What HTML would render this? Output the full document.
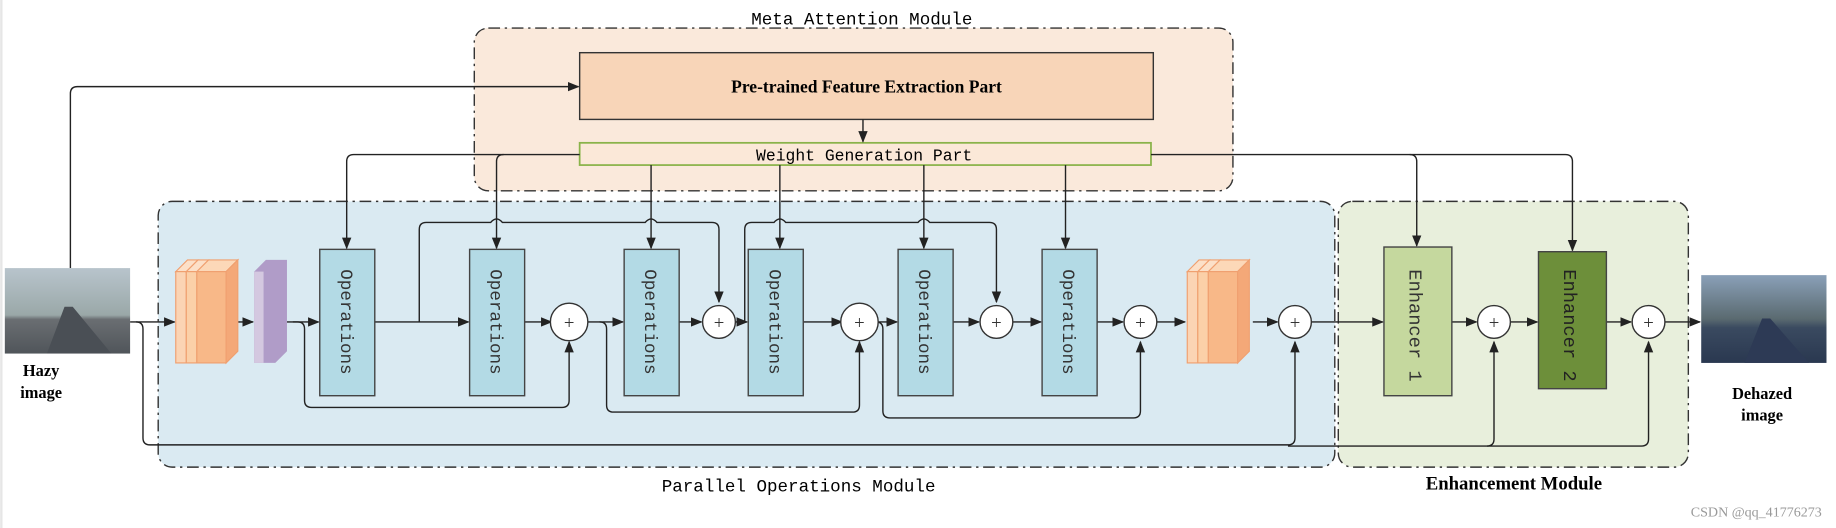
<!DOCTYPE html>
<html><head><meta charset="utf-8"><style>
html,body{margin:0;padding:0;background:#fff;}
svg{display:block;}
text{font-family:"Liberation Serif",serif;}
.m{font-family:"Liberation Mono",monospace;}
</style></head><body>
<svg width="1836" height="528" viewBox="0 0 1568 451" xmlns="http://www.w3.org/2000/svg">
<defs>
<marker id="a" markerWidth="10" markerHeight="10" refX="9" refY="5" orient="auto" markerUnits="userSpaceOnUse"><path d="M0,1 L10,5 L0,9 z" fill="#222"/></marker>
<linearGradient id="sky" x1="0" y1="0" x2="0" y2="1"><stop offset="0" stop-color="#b8c4cc"/><stop offset="0.55" stop-color="#9aa8a8"/><stop offset="0.6" stop-color="#6a6e72"/><stop offset="1" stop-color="#50555a"/></linearGradient>
<linearGradient id="sky2" x1="0" y1="0" x2="0" y2="1"><stop offset="0" stop-color="#8aa0b8"/><stop offset="0.5" stop-color="#5a6a70"/><stop offset="0.6" stop-color="#3a4a60"/><stop offset="1" stop-color="#2a3850"/></linearGradient>
</defs>
<rect x="0" y="0" width="2" height="451" fill="#e6e6e6"/>
<!-- module boxes -->
<rect x="405" y="24" width="648" height="139" rx="12" fill="#fae9db" stroke="#333" stroke-width="1.2" stroke-dasharray="10,4,2,4"/>
<rect x="135" y="172" width="1005" height="227" rx="12" fill="#daeaf2" stroke="#333" stroke-width="1.2" stroke-dasharray="10,4,2,4"/>
<rect x="1143" y="172" width="299" height="227" rx="12" fill="#e8efdc" stroke="#333" stroke-width="1.2" stroke-dasharray="10,4,2,4"/>
<text x="736" y="21" font-size="15" text-anchor="middle" class="m">Meta Attention Module</text>
<text x="682" y="420" font-size="15" text-anchor="middle" class="m">Parallel Operations Module</text>
<text x="1293" y="418" font-size="16" font-weight="bold" text-anchor="middle">Enhancement Module</text>
<rect x="495" y="45" width="490" height="57" fill="#f8d5b8" stroke="#333" stroke-width="1.2"/>
<text x="740" y="79" font-size="15" font-weight="bold" text-anchor="middle">Pre-trained Feature Extraction Part</text>
<rect x="495" y="122" width="488" height="19" fill="#fbe8d8" stroke="#8ab34a" stroke-width="1.5"/>
<text x="738" y="137" font-size="14" text-anchor="middle" class="m">Weight Generation Part</text>
<g fill="none" stroke="#222" stroke-width="1.2">
<path d="M737 102 V121" marker-end="url(#a)"/>
<path d="M60 229 V80 Q60 74 66 74 H494" marker-end="url(#a)"/>
<path d="M495 132 H302 Q296 132 296 138 V212" marker-end="url(#a)"/>
<path d="M430 132 Q424 132 424 138 V212" marker-end="url(#a)"/>
<path d="M556 141 V212" marker-end="url(#a)"/>
<path d="M666 141 V212" marker-end="url(#a)"/>
<path d="M789 141 V212" marker-end="url(#a)"/>
<path d="M910 141 V212" marker-end="url(#a)"/>
<path d="M983 132 H1204 Q1210 132 1210 138 V210" marker-end="url(#a)"/>
<path d="M1204 132 H1337 Q1343 132 1343 138 V214" marker-end="url(#a)"/>
<!-- skip tops -->
<path d="M358 275 V196 Q358 190 364 190 H419 Q424 184 429 190 H551 Q556 184 561 190 H608 Q614 190 614 196 V258" marker-end="url(#a)"/>
<path d="M636 275 V196 Q636 190 642 190 H661 Q666 184 671 190 H784 Q789 184 794 190 H845 Q851 190 851 196 V258" marker-end="url(#a)"/>
<!-- bottoms -->
<path d="M250 275 H254 Q260 275 260 281 V342 Q260 348 266 348 H480 Q486 348 486 342 V292" marker-end="url(#a)"/>
<path d="M512 275 Q518 275 518 281 V346 Q518 352 524 352 H728 Q734 352 734 346 V292" marker-end="url(#a)"/>
<path d="M748 275 Q754 275 754 281 V351 Q754 357 760 357 H968 Q974 357 974 351 V292" marker-end="url(#a)"/>
<path d="M116 275 Q122 275 122 281 V374 Q122 380 128 380 H1100 Q1106 380 1106 374 V292" marker-end="url(#a)"/>
<path d="M1100 381 H1270 Q1276 381 1276 375 V292" marker-end="url(#a)"/>
<path d="M1270 381 H1402 Q1408 381 1408 375 V292" marker-end="url(#a)"/>
<!-- main line -->
<path d="M111 275 H149" marker-end="url(#a)"/>
<path d="M203 275 H216" marker-end="url(#a)"/>
<path d="M245 275 H272" marker-end="url(#a)"/>
<path d="M320 275 H400" marker-end="url(#a)"/>
<path d="M448 275 H471" marker-end="url(#a)"/>
<path d="M500 275 H532" marker-end="url(#a)"/>
<path d="M580 275 H599" marker-end="url(#a)"/>
<path d="M628 275 H638" marker-end="url(#a)"/>
<path d="M686 275 H719" marker-end="url(#a)"/>
<path d="M748 275 H766" marker-end="url(#a)"/>
<path d="M814 275 H836" marker-end="url(#a)"/>
<path d="M865 275 H889" marker-end="url(#a)"/>
<path d="M937 275 H959" marker-end="url(#a)"/>
<path d="M988 275 H1012" marker-end="url(#a)"/>
<path d="M1070 275 H1091" marker-end="url(#a)"/>
<path d="M1120 275 H1181" marker-end="url(#a)"/>
<path d="M1240 275 H1261" marker-end="url(#a)"/>
<path d="M1290 275 H1313" marker-end="url(#a)"/>
<path d="M1372 275 H1393" marker-end="url(#a)"/>
<path d="M1422 275 H1452" marker-end="url(#a)"/>
</g>
<!-- images -->
<rect x="4" y="229" width="107" height="73" fill="url(#sky)"/>
<path d="M40 302 L55 262 L62 262 L95 302 z" fill="#4a4f55"/>
<rect x="1453" y="235" width="107" height="75" fill="url(#sky2)"/>
<path d="M1490 310 L1505 272 L1512 272 L1545 310 z" fill="#2d3a55"/>
<text x="35" y="321" font-size="14" font-weight="bold" text-anchor="middle">Hazy</text>
<text x="35" y="340" font-size="14" font-weight="bold" text-anchor="middle">image</text>
<text x="1505" y="341" font-size="14" font-weight="bold" text-anchor="middle">Dehazed</text>
<text x="1505" y="359" font-size="14" font-weight="bold" text-anchor="middle">image</text>
<!-- orange stacks -->
<g stroke="#f0a070" stroke-width="1">
<g id="st"><polygon points="150,232 160,222 169,222 159,232" fill="#fce0c8"/><rect x="150" y="232" width="9" height="78" fill="#fbd4b4"/>
<polygon points="159,232 169,222 178,222 168,232" fill="#fce0c8"/><rect x="159" y="232" width="9" height="78" fill="#fbd0a8"/>
<polygon points="168,232 178,222 203,222 193,232" fill="#fcd8b8"/><rect x="168" y="232" width="25" height="78" fill="#f8b888"/>
<polygon points="193,232 203,222 203,300 193,310" fill="#f4a878"/></g>
<use href="#st" x="864"/>
</g>
<polygon points="217,232 227,222 245,222 245,300 235,310 217,310" fill="#b09cc8"/>
<rect x="217" y="232" width="8" height="78" fill="#d4c8e0"/>
<!-- operations -->
<g fill="#b3dae5" stroke="#444" stroke-width="1.2">
<rect x="273" y="213" width="47" height="125"/><rect x="401" y="213" width="47" height="125"/>
<rect x="533" y="213" width="47" height="125"/><rect x="639" y="213" width="47" height="125"/>
<rect x="767" y="213" width="47" height="125"/><rect x="890" y="213" width="47" height="125"/>
</g>
<g font-size="15" fill="#333" class="m">
<text class="m" transform="translate(291,230) rotate(90)">Operations</text>
<text class="m" transform="translate(419,230) rotate(90)">Operations</text>
<text class="m" transform="translate(551,230) rotate(90)">Operations</text>
<text class="m" transform="translate(657,230) rotate(90)">Operations</text>
<text class="m" transform="translate(785,230) rotate(90)">Operations</text>
<text class="m" transform="translate(908,230) rotate(90)">Operations</text>
</g>
<rect x="1182" y="211" width="58" height="127" fill="#c5d89e" stroke="#444" stroke-width="1.2"/>
<rect x="1314" y="215" width="58" height="117" fill="#6d8f3a" stroke="#444" stroke-width="1.2"/>
<text class="m" transform="translate(1204,230) rotate(90)" font-size="16" fill="#333">Enhancer 1</text>
<text class="m" transform="translate(1336,230) rotate(90)" font-size="16" fill="#222">Enhancer 2</text>
<!-- plus -->
<g fill="#fff" stroke="#333" stroke-width="1.2">
<circle cx="486" cy="275" r="16"/><circle cx="614" cy="275" r="14"/><circle cx="734" cy="275" r="16"/>
<circle cx="851" cy="275" r="14"/><circle cx="974" cy="275" r="14"/><circle cx="1106" cy="275" r="14"/>
<circle cx="1276" cy="275" r="14"/><circle cx="1408" cy="275" r="14"/>
</g>
<g font-size="16" text-anchor="middle" fill="#333">
<text x="486" y="281">+</text><text x="614" y="281">+</text><text x="734" y="281">+</text><text x="851" y="281">+</text>
<text x="974" y="281">+</text><text x="1106" y="281">+</text><text x="1276" y="281">+</text><text x="1408" y="281">+</text>
</g>
<text x="1556" y="441" font-size="12" fill="#999" text-anchor="end" font-family="Liberation Sans,sans-serif">CSDN @qq_41776273</text>
</svg>
</body></html>
